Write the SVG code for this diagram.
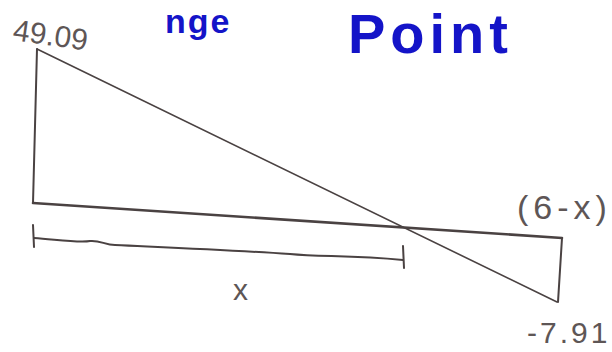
<svg xmlns="http://www.w3.org/2000/svg" width="612" height="352" viewBox="0 0 612 352">
<style>
.ink{fill:none;stroke:#4a4242;stroke-linecap:round;stroke-linejoin:round}
.lbl{font-family:"Liberation Sans",Arial,sans-serif;fill:#5e5656}
.title{font-family:"Liberation Sans",Arial,sans-serif;fill:#1414c8;font-weight:bold}
</style>
<rect width="612" height="352" fill="#ffffff"/>
<g id="title">
<text class="title" x="165" y="33" font-size="34" letter-spacing="2">nge</text>
<text class="title" x="348" y="53" font-size="56" letter-spacing="5">Point</text>
</g>
<g id="diagram">
<path class="ink" stroke-width="2" d="M37,49 L33,203"/>
<path class="ink" stroke-width="1.6" d="M37,49 L557,302"/>
<path class="ink" stroke-width="2.6" d="M33,203 L562,238"/>
<path class="ink" stroke-width="2" d="M562,238 L558,302"/>
</g>
<g id="dimension">
<path class="ink" stroke-width="2" d="M33,225 L34,247"/>
<path class="ink" stroke-width="2" d="M34,238 C60,240 80,243 90,241 C100,240 105,245 115,245 C180,248 230,250 290,254 C320,257 350,255 403,260"/>
<path class="ink" stroke-width="2" d="M403,246 L404,268"/>
</g>
<g id="labels">
<text class="lbl" x="12" y="40" font-size="30" transform="rotate(8 12 40)">49.09</text>
<text class="lbl" x="233" y="300" font-size="30">x</text>
<text class="lbl" x="517" y="219" font-size="34" letter-spacing="5">(6-x)</text>
<text class="lbl" x="527" y="343" font-size="30" letter-spacing="3">-7.91</text>
</g>
</svg>
